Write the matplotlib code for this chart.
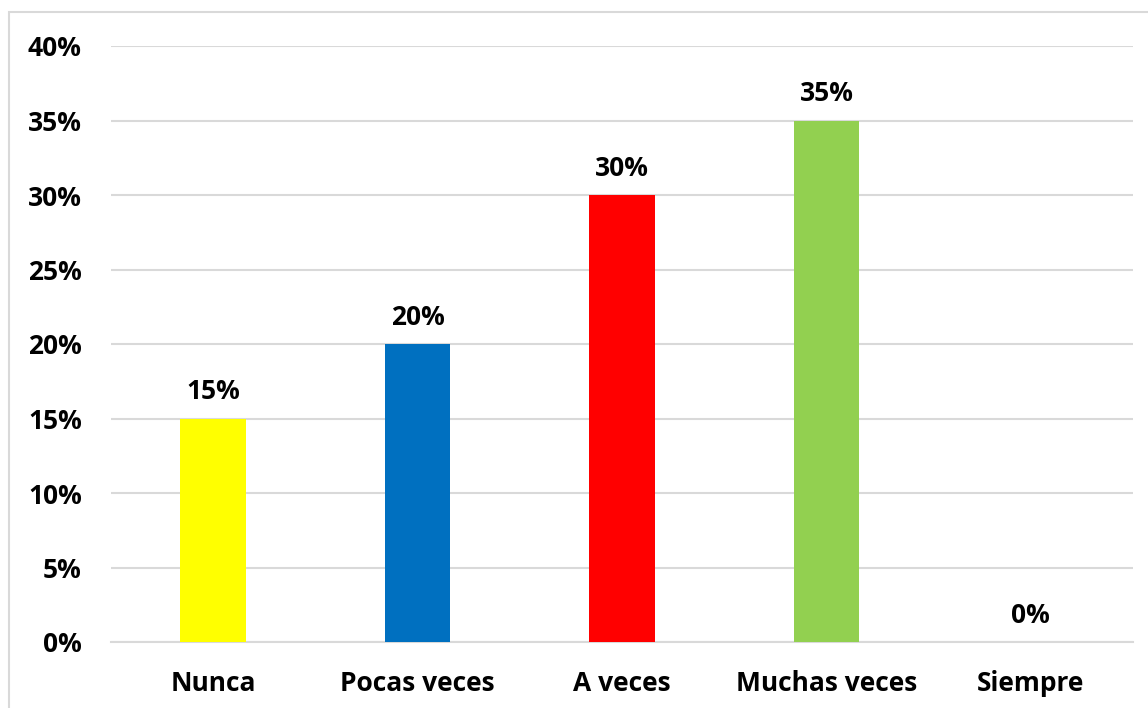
import matplotlib
matplotlib.use("Agg")
import matplotlib.pyplot as plt
from matplotlib.patches import Rectangle
from matplotlib.ticker import MultipleLocator, FuncFormatter

categories = ["Nunca", "Pocas veces", "A veces", "Muchas veces", "Siempre"]
values = [15, 20, 30, 35, 0]
colors = ["#FFFF00", "#0070C0", "#FF0000", "#92D050", "#A5A5A5"]

plt.rcParams["font.family"] = ["Open Sans", "DejaVu Sans"]
plt.rcParams["font.weight"] = "bold"

W, H = 1148, 708
fig = plt.figure(figsize=(W / 100, H / 100), dpi=100)
ax = fig.add_axes([111 / W, 66 / H, (1133 - 111) / W, (642 - 46) / H])

x = range(len(categories))
bars = ax.bar(x, values, width=0.32, color=colors, zorder=3)

for xi, v in zip(x, values):
    ax.annotate(f"{v}%", (xi, v), xytext=(0, 9.5), textcoords="offset points",
                ha="center", va="bottom", fontsize=19, fontweight="bold")

ax.set_xlim(-0.5, len(categories) - 0.5)
ax.set_ylim(0, 40)
ax.yaxis.set_major_locator(MultipleLocator(5))
ax.yaxis.set_major_formatter(FuncFormatter(lambda v, p: f"{v:.0f}%"))
ax.set_xticks(list(x))
ax.set_xticklabels(categories)

ax.grid(axis="y", color="#D9D9D9", linewidth=1.5, zorder=0)
for s in ["top", "right", "left"]:
    ax.spines[s].set_visible(False)
ax.spines["bottom"].set_color("#D9D9D9")
ax.spines["bottom"].set_linewidth(1.5)
ax.tick_params(axis="both", length=0, labelsize=19)
ax.tick_params(axis="x", pad=20)
ax.tick_params(axis="y", pad=21)
for lab in ax.get_xticklabels() + ax.get_yticklabels():
    lab.set_fontweight("bold")

# chart frame
fig.add_artist(Rectangle((9 / W, -0.05), 1.2, (H - 12) / H + 0.05,
                         transform=fig.transFigure, fill=False,
                         edgecolor="#D9D9D9", linewidth=1.5))

fig.savefig("out.png", dpi=100)
